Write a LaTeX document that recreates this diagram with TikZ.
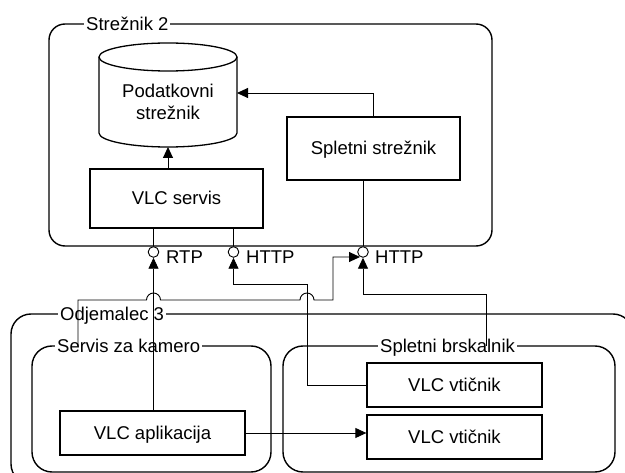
\documentclass[tikz,border=0pt]{standalone}
\usepackage{fontspec}
\setmainfont{Liberation Sans}
\usetikzlibrary{arrows.meta,calc}
\begin{document}
\begin{tikzpicture}[x=1pt,y=-1pt,
  font=\fontsize{18.5}{22}\selectfont,
  container/.style={draw,line width=1.4pt,inner sep=0pt},
  grouplabel/.style={anchor=west,fill=white,inner xsep=2pt,inner ysep=0pt,text height=13pt,text depth=0pt},
  box/.style={draw,line width=1.3pt,inner sep=0pt,text height=13pt,text depth=0pt},
  conn/.style={line width=0.9pt},
  arr/.style={conn,-{Triangle[length=11pt,width=10pt]}},
  port/.style={circle,draw,fill=white,line width=0.9pt,minimum size=10.6pt,inner sep=0pt},
  portlabel/.style={anchor=west,inner sep=0pt,text height=13pt,text depth=0pt}]
\useasboundingbox (0,0) rectangle (625,473);
\clip (0,0) rectangle (625,473);

% containers
\node[container,rounded corners=16pt,minimum width=443pt,minimum height=222pt] (srv) at (270.5,135) {};
\node[grouplabel] (srvl) at (84,24) {Strežnik 2};
\node[container,rounded corners=20pt,minimum width=622pt,minimum height=170pt] (cli) at (322,399) {};
\node[grouplabel] (clil) at (58,314) {Odjemalec 3};
\node[container,rounded corners=20pt,minimum width=239pt,minimum height=126pt] (sk) at (151.5,409) {};
\node[grouplabel] (skl) at (55,346) {Servis za kamero};
\node[container,rounded corners=20pt,minimum width=332pt,minimum height=126pt] (sb) at (449,409) {};
\node[grouplabel] (sbl) at (378,346) {Spletni brskalnik};

% database cylinder
\draw[line width=1.3pt] (99,57) -- (99,133) arc[start angle=180,end angle=360,x radius=69pt,y radius=14pt] -- (237,57);
\draw[line width=1.3pt] (168,57) ellipse[x radius=69pt,y radius=14pt];
\node[align=center,inner sep=0pt] (db) at (168,102) {Podatkovni\\strežnik};
\coordinate (dbE) at (237,93);
\coordinate (dbS) at (168,147);

% boxes
\node[box,minimum width=173pt,minimum height=63pt] (ss) at (373.5,148.5) {Spletni strežnik};
\node[box,minimum width=173pt,minimum height=59pt] (vs) at (176.5,198.5) {VLC servis};
\node[box,minimum width=185pt,minimum height=44pt] (va) at (152.5,433) {VLC aplikacija};
\node[box,minimum width=175pt,minimum height=44pt] (vt1) at (454.5,385) {VLC vtičnik};
\node[box,minimum width=175pt,minimum height=44pt] (vt2) at (454.5,437) {VLC vtičnik};

% ports
\node[port] (p1) at (153.5,252) {};
\node[port] (p2) at (233.5,252) {};
\node[port] (p3) at (363,252) {};
\node[portlabel] (l1) at (166,257) {RTP};
\node[portlabel] (l2) at (246,257) {HTTP};
\node[portlabel] (l3) at (375,257) {HTTP};
\coordinate (p3in) at (360,257);
\coordinate (sktop) at (78,346);
\coordinate (sbtop) at (486,346);

% connectors
\draw[arr] (ss.north) |- (dbE);
\draw[arr] (vs.north -| dbS) -- (dbS);
\draw[conn] (vs.south -| p1) -- (p1);
\draw[conn] (vs.south -| p2) -- (p2);
\draw[conn] (ss.south -| p3) -- (p3);
\draw[arr] (va.north -| p1) -- (p1.south);
\draw[arr] (vt1.west) -| (307,284) -| (p2.south);
\draw[arr] (sktop) -- (78,300) -- (146.5,300) arc[start angle=180,end angle=0,radius=7pt] -- (300,300) arc[start angle=180,end angle=0,radius=7pt] -- (333,300) -- (333,257) -- (p3in);
\draw[arr] (sbtop) -- ++(0,-52) -| (p3.south);
\draw[arr] (va.east) -- (va.east -| vt2.west);
\end{tikzpicture}
\end{document}
